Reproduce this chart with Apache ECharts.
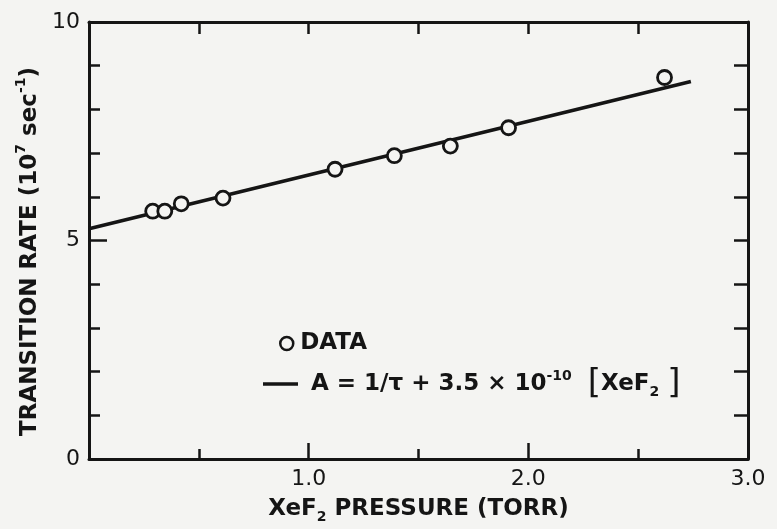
<!DOCTYPE html>
<html>
<head>
<meta charset="utf-8">
<script src="https://cdn.jsdelivr.net/npm/echarts@6/dist/echarts.min.js"></script>
<style>
  html, body { margin: 0; padding: 0; background: #f4f4f2; }
  #chart { width: 777px; height: 529px; }
</style>
</head>
<body>
<div id="chart"></div>
<script>
// Measured transition rates (10^7 s^-1) vs XeF2 pressure (torr)
const pressure = [0.29, 0.345, 0.42, 0.61, 1.12, 1.39, 1.645, 1.91, 2.62];
const rate     = [5.67, 5.67, 5.84, 5.97, 6.63, 6.94, 7.16, 7.58, 8.73];

// Linear fit A = 1/tau + k[XeF2], drawn between its two end points
const fitPressure = [0, 2.74];
const fitRate     = [5.27, 8.64];

// Tick labels
const xTickLabels = { 1: '1.0', 2: '2.0', 3: '3.0' };
const yTickLabels = { 0: '0', 5: '5', 10: '10' };

const FONT = 'DejaVu Sans';
const WEIGHT = 'bold';
const INK = '#151515';
const BG = '#f4f4f2';

const chart = echarts.init(document.getElementById('chart'), null, { renderer: 'canvas' });

const axisLine = { show: true, onZero: false, lineStyle: { color: INK, width: 3 } };
const tickLine = { color: INK, width: 2.5 };

function xAxisCfg(pos, showLabels, major, minor) {
  return {
    type: 'value', position: pos, min: 0, max: 3, interval: 1,
    axisLine: axisLine,
    axisTick: { show: true, inside: true, length: major, lineStyle: tickLine },
    minorTick: { show: true, splitNumber: 2, length: minor, lineStyle: tickLine },
    splitLine: { show: false }, minorSplitLine: { show: false },
    axisLabel: {
      show: showLabels, margin: 9, color: INK, fontFamily: FONT, fontSize: 22,
      formatter: v => xTickLabels[Math.round(v)] || ''
    }
  };
}

function yAxisCfg(pos, showLabels, major, minor) {
  return {
    type: 'value', position: pos, min: 0, max: 10, interval: 5,
    axisLine: axisLine,
    axisTick: { show: true, inside: true, length: major, lineStyle: tickLine },
    minorTick: { show: true, splitNumber: 5, length: minor, lineStyle: tickLine },
    splitLine: { show: false }, minorSplitLine: { show: false },
    axisLabel: {
      show: showLabels, margin: 9, color: INK, fontFamily: FONT, fontSize: 22,
      formatter: v => yTickLabels[Math.round(v)] || ''
    }
  };
}

const rich = {
  t:   { fontFamily: FONT, fontWeight: WEIGHT, fontSize: 23, color: INK, lineHeight: 30 },
  sup: { fontFamily: FONT, fontWeight: WEIGHT, fontSize: 14, color: INK, verticalAlign: 'top', lineHeight: 30 },
  sub: { fontFamily: FONT, fontWeight: WEIGHT, fontSize: 14, color: INK, verticalAlign: 'bottom', lineHeight: 30 },
  br:  { fontFamily: FONT, fontSize: 34, color: INK, lineHeight: 30 }
};

const xA = xAxisCfg('bottom', true, 16, 10);
xA.name = '{t|XeF}{sub|2}{t| PRESSURE (TORR)}';
xA.nameLocation = 'middle';
xA.nameGap = 35;
xA.nameTextStyle = { rich: rich };

const yA = yAxisCfg('left', true, 18, 11);
yA.name = '{t|TRANSITION RATE (10}{sup|7}{t| sec}{sup|-1}{t|)}';
yA.nameLocation = 'middle';
yA.nameGap = 43;
yA.nameTextStyle = { rich: rich, padding: [0, 22, 0, 0] };

const FIT_NAME = 'A = 1/τ + 3.5 × 10⁻¹⁰ [XeF₂]';

const option = {
  backgroundColor: BG,
  animation: false,
  grid: { left: 89, right: 29, top: 22, bottom: 70, containLabel: false, outerBoundsMode: 'none' },
  xAxis: [xA, xAxisCfg('top', false, 12, 12)],
  yAxis: [yA, yAxisCfg('right', false, 14, 14)],
  legend: [
    {
      data: [{ name: 'DATA', icon: 'circle', itemStyle: { color: BG, borderColor: INK, borderWidth: 2.5 } }],
      left: 274, top: 327, itemWidth: 13, itemHeight: 13, itemGap: 0,
      textStyle: { fontFamily: FONT, fontWeight: WEIGHT, fontSize: 23, color: INK, padding: [0, 0, 0, 2] },
      selectedMode: false
    },
    {
      data: [{ name: FIT_NAME, icon: 'rect', itemStyle: { color: INK, borderWidth: 0 } }],
      left: 258, top: 362, itemWidth: 35, itemHeight: 3.5,
      textStyle: { fontFamily: FONT, fontSize: 23, color: INK, rich: rich },
      formatter: () => '{t| A = 1/τ + 3.5 × 10}{sup|-10}{t|  }{br|[}{t|XeF}{sub|2}{t| }{br|]}',
      selectedMode: false
    }
  ],
  series: [
    {
      name: FIT_NAME, type: 'line', xAxisIndex: 0, yAxisIndex: 0,
      data: fitPressure.map((p, i) => [p, fitRate[i]]),
      symbol: 'none', showSymbol: false,
      lineStyle: { color: INK, width: 3.5 }, z: 2
    },
    {
      name: 'DATA', type: 'scatter', xAxisIndex: 0, yAxisIndex: 0,
      data: pressure.map((p, i) => [p, rate[i]]),
      symbol: 'circle', symbolSize: 14,
      itemStyle: { color: BG, borderColor: INK, borderWidth: 2.8, opacity: 1 }, z: 3
    }
  ]
};

chart.setOption(option);
</script>
</body>
</html>
